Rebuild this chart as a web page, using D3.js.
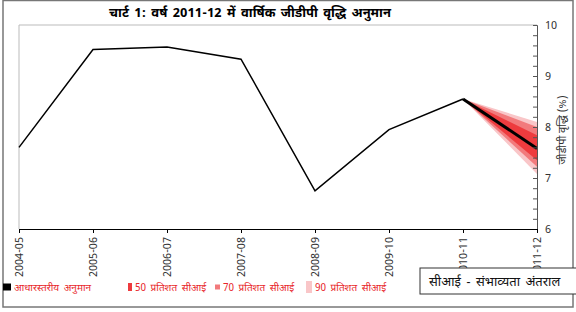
<!DOCTYPE html>
<html><head><meta charset="utf-8">
<script src="https://cdn.jsdelivr.net/npm/d3@7"></script>
<style>
body{margin:0;background:#fff;}
text{font-family:"Noto Sans Devanagari","Noto Sans","Lohit Devanagari",Arial,"Liberation Sans",sans-serif;}
</style></head>
<body><svg id="c" width="576" height="312"></svg>
<script>
const categories = ["2004-05","2005-06","2006-07","2007-08","2008-09","2009-10","2010-11","2011-12"];
const actual = [7.6, 9.52, 9.57, 9.33, 6.75, 7.95, 8.55];
const baseline = [8.55, 7.58];
const fanCats = ["2010-11","2011-12"];
const ci90 = {low:[8.55, 7.08], high:[8.55, 8.1]};
const ci70 = {low:[8.55, 7.22], high:[8.55, 8.0]};
const ci50 = {low:[8.55, 7.35], high:[8.55, 7.84]};
const yMajor = [6,7,8,9,10];

const svg = d3.select("#c");
const x = d3.scalePoint().domain(categories).range([19, 537]);
const y = d3.scaleLinear().domain([6,10]).range([229, 25]);

// outer border
svg.append("rect").attr("x",3).attr("y",0.5).attr("width",570).attr("height",306.5)
  .attr("fill","none").attr("stroke","#777").attr("stroke-width",1.5);

// title
svg.append("text").attr("x",250).attr("y",17).attr("text-anchor","middle")
  .attr("font-size",13).attr("font-weight","bold").attr("fill","#000")
  .attr("word-spacing",2)
  .text("चार्ट 1: वर्ष 2011-12 में वार्षिक जीडीपी वृद्धि अनुमान");

// plot frame (top, left)
svg.append("path").attr("d",`M19,229V25H537`).attr("fill","none").attr("stroke","#bbb").attr("stroke-width",1);

// fan
const fanArea = (band) => d3.area()
  .x((d,i)=>x(fanCats[i]))
  .y0((d,i)=>y(band.low[i]))
  .y1((d,i)=>y(band.high[i]));
const bands = [[ci90,"#f9c6c8"],[ci70,"#f27a7c"],[ci50,"#ee3b3e"]];
bands.forEach(([b,c])=>{
  svg.append("path").datum(b.low).attr("d",fanArea(b)).attr("fill",c);
});

// actual line
const line = d3.line().x((d,i)=>x(categories[i])).y(d=>y(d));
svg.append("path").datum(actual).attr("d",line).attr("fill","none").attr("stroke","#000").attr("stroke-width",1.5);
const bline = d3.line().x((d,i)=>x(fanCats[i])).y(d=>y(d));
svg.append("path").datum(baseline).attr("d",bline).attr("fill","none").attr("stroke","#000").attr("stroke-width",3);

// right axis: minor ticks inward
const gR = svg.append("g").attr("transform","translate(537,0)");
gR.call(d3.axisLeft(y).tickValues(d3.range(6,10.001,0.2)).tickSize(4).tickFormat(""));
gR.select(".domain").attr("stroke","#555");
gR.selectAll(".tick line").attr("stroke","#555");
const gL = svg.append("g").attr("transform","translate(537,0)");
gL.call(d3.axisRight(y).tickValues(yMajor).tickSize(0).tickPadding(8).tickFormat(d3.format("d")));
gL.select(".domain").remove();
gL.selectAll("text").attr("font-size",11).attr("fill","#333").attr("font-family","Arial, 'Liberation Sans', sans-serif");

// y label
svg.append("text").attr("transform","translate(566,130) rotate(-90)")
  .attr("text-anchor","middle").attr("font-size",11).attr("fill","#333")
  .text("जीडीपी वृद्धि (%)");

// x axis
const gX = svg.append("g").attr("transform","translate(0,229)");
gX.call(d3.axisBottom(x).tickSize(4).tickSizeOuter(0).tickPadding(3));
gX.select(".domain").attr("stroke","#000").attr("stroke-width",1.2);
gX.selectAll(".tick line").attr("stroke","#000");
gX.selectAll("text").attr("font-size",11).attr("fill","#333")
  .attr("font-family","Arial, 'Liberation Sans', sans-serif")
  .attr("text-anchor","end").attr("dy","0.35em")
  .attr("transform","translate(0,3) rotate(-90)").attr("x",-5).attr("y",0);

// legend
const legend = [
  {label:"आधारस्तरीय अनुमान", color:"#000", x:3, w:8, h:7},
  {label:"50 प्रतिशत सीआई", color:"#ee3b3e", x:128, w:4, h:8},
  {label:"70 प्रतिशत सीआई", color:"#f27a7c", x:215, w:5, h:5},
  {label:"90 प्रतिशत सीआई", color:"#f9c6c8", x:306, w:6, h:12},
];
legend.forEach(l=>{
  svg.append("rect").attr("x",l.x).attr("y",287-l.h/2).attr("width",l.w).attr("height",l.h).attr("fill",l.color);
  svg.append("text").attr("x",l.x+l.w+3).attr("y",291).attr("font-size",10).attr("fill","#e8262a")
    .attr("word-spacing",2).text(l.label);
});

// note box
svg.append("rect").attr("x",420).attr("y",268).attr("width",160).attr("height",26)
  .attr("fill","#fff").attr("stroke","#333").attr("stroke-width",1);
svg.append("text").attr("x",429).attr("y",286).attr("font-size",13).attr("fill","#111")
  .attr("word-spacing",2).text("सीआई - संभाव्यता अंतराल");
</script></body></html>
